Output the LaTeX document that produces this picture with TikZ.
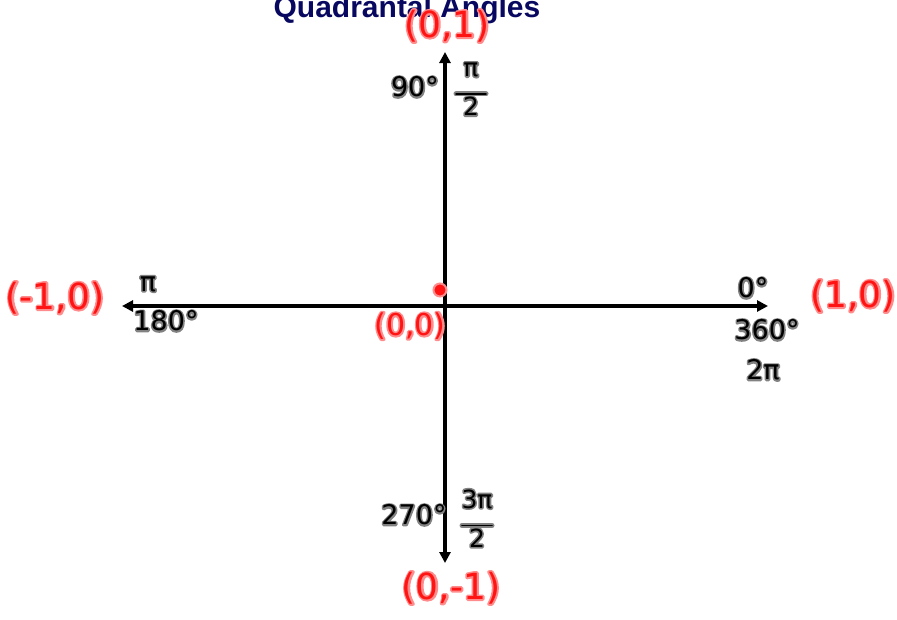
\documentclass[tikz,border=0pt]{standalone}
\usepackage{fontspec}
\setmainfont{DejaVu Sans}
\newfontfamily\titlefont{Liberation Sans}
\usetikzlibrary{arrows.meta}
\definecolor{navy}{RGB}{8,8,96}
\definecolor{halogray}{RGB}{130,130,130}
\definecolor{halored}{RGB}{255,140,140}
\definecolor{penred}{RGB}{255,20,20}
\newcommand{\halo}[3]{\rlap{\textcolor{#1}{\special{pdf:literal direct 1 Tr #2 w 1 J 1 j}#3\special{pdf:literal direct 0 Tr}}}}
\newcommand{\blk}[1]{\halo{halogray}{3.2}{#1}\textcolor{black}{#1}}
\newcommand{\rdl}[1]{\halo{halored}{3.6}{#1}\textcolor{penred}{#1}}
\newcommand{\frc}[2]{\begin{tabular}{@{}c@{}}\blk{#1}\\[-5pt]\color{halogray}\rule{1.2em}{5pt}\llap{\color{black}\raisebox{1.6pt}{\rule{1.2em}{1.8pt}}}\\[-7pt]\blk{#2}\end{tabular}}
\begin{document}
\begin{tikzpicture}[x=1pt,y=-1pt,
  axis/.style={line width=3.6pt,-{Triangle[length=11pt,width=11pt]},black},
  blab/.style={inner sep=0pt,font=\fontsize{27}{28}\selectfont},
  blabs/.style={inner sep=0pt,font=\fontsize{25}{25}\selectfont},
  rlab/.style={inner sep=0pt,font=\fontsize{36}{38}\selectfont}]
\useasboundingbox (0,0) rectangle (897,619);
\node[anchor=base,font=\titlefont\bfseries\fontsize{30}{34}\selectfont,text=navy,inner sep=0pt] (title) at (407,17) {Quadrantal Angles};
\coordinate (o) at (445,306);
\coordinate (top) at (445,52);
\coordinate (bot) at (445,563);
\coordinate (lft) at (122,306);
\coordinate (rgt) at (768,306);
\draw[axis] (o) -- (top);
\draw[axis] (o) -- (bot);
\draw[axis] (o) -- (lft);
\draw[axis] (o) -- (rgt);
\fill[penred,draw=halored,line width=2pt] (440,290) circle (6.5pt) node (dot) {};
% red coordinates
\node[rlab] (p01) at (447,26) {\rdl{(0,1)}};
\node[rlab] (pm10) at (55,298) {\rdl{(-1,0)}};
\node[rlab] (p10) at (853,296) {\rdl{(1,0)}};
\node[rlab,font=\fontsize{30}{32}\selectfont] (p00) at (410,326) {\rdl{(0,0)}};
\node[rlab] (p0m1) at (451,588) {\rdl{(0,-1)}};
% black angle labels
\node[blab] (d90) at (415,87) {\blk{90°}};
\node[blabs] (r90) at (471,91) {\frc{π}{2}};
\node[blab] (r180) at (148,284) {\blk{π}};
\node[blab] (d180) at (166,321) {\blk{180°}};
\node[blab] (d0) at (753,288) {\blk{0°}};
\node[blab] (d360) at (767,330) {\blk{360°}};
\node[blab] (r360) at (763,370) {\blk{2π}};
\node[blab] (d270) at (414,515) {\blk{270°}};
\node[blabs] (r270) at (477,522) {\frc{3π}{2}};
\end{tikzpicture}
\end{document}
